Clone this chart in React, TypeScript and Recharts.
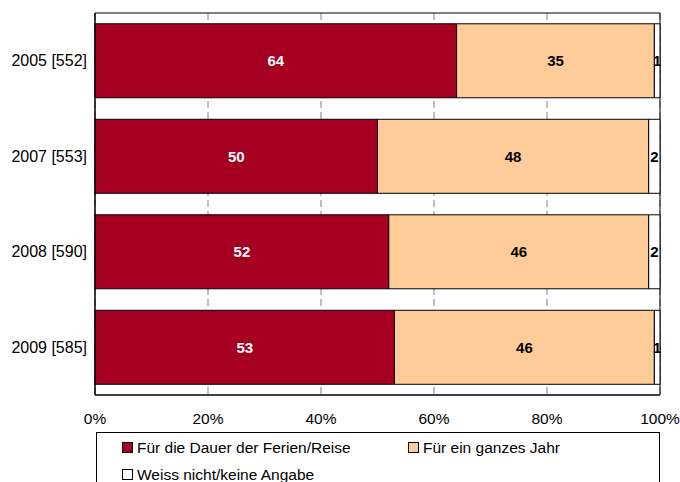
import React from 'react';
import { BarChart, Bar, XAxis, YAxis, CartesianGrid, ReferenceArea, LabelList } from 'recharts';

const categories = ['2005 [552]', '2007 [553]', '2008 [590]', '2009 [585]'];
const dauerValues = [64, 50, 52, 53];
const jahrValues = [35, 48, 46, 46];
const weissValues = [1, 2, 2, 1];
const xTicks = [0, 20, 40, 60, 80, 100];

const seriesNames = ['Für die Dauer der Ferien/Reise', 'Für ein ganzes Jahr', 'Weiss nicht/keine Angabe'];
const seriesColors = ['#A50021', '#FFCC99', '#FFFFFF'];

const data = categories.map((name, i) => ({
  name,
  dauer: dauerValues[i],
  jahr: jahrValues[i],
  weiss: weissValues[i],
}));

const font = '"Liberation Sans", Arial, sans-serif';

const Swatch = ({ color }: { color: string }) => (
  <span style={{
    display: 'inline-block',
    width: 9,
    height: 9,
    background: color,
    border: '1px solid #000',
    marginRight: 4,
    verticalAlign: 'middle',
    position: 'relative',
    top: -1,
  }} />
);

export default function App() {
  const labelStyle = { fontSize: 15, fontWeight: 700, fontFamily: font };
  return (
    <div style={{ position: 'relative', width: 680, height: 482, background: '#fff', fontFamily: font }}>
      <style>{`body{margin:0}`}</style>
      <BarChart
        width={680}
        height={482}
        data={data}
        layout="vertical"
        margin={{ top: 13, right: 20, bottom: 50, left: 0 }}
        barCategoryGap="11.3%"
      >
        <CartesianGrid horizontal={false} stroke="#808080" strokeDasharray="7 4" />
        <XAxis
          type="number"
          domain={[0, 100]}
          ticks={xTicks}
          tickFormatter={(v: number) => `${v}%`}
          tickLine={false}
          axisLine={{ stroke: '#000' }}
          tick={{ fill: '#000', fontSize: 15.5, fontFamily: font }}
          tickMargin={12}
          height={37}
          interval={0}
        />
        <YAxis
          type="category"
          dataKey="name"
          width={95}
          tickLine={false}
          axisLine={{ stroke: '#000' }}
          tick={{ fill: '#000', fontSize: 16, fontFamily: font }}
          tickMargin={2}
        />
        <Bar dataKey="dauer" stackId="a" fill={seriesColors[0]} stroke="#000" strokeWidth={1} isAnimationActive={false}>
          <LabelList dataKey="dauer" position="center" fill="#fff" style={labelStyle} />
        </Bar>
        <Bar dataKey="jahr" stackId="a" fill={seriesColors[1]} stroke="#000" strokeWidth={1} isAnimationActive={false}>
          <LabelList dataKey="jahr" position="center" fill="#000" style={labelStyle} />
        </Bar>
        <Bar dataKey="weiss" stackId="a" fill={seriesColors[2]} stroke="#000" strokeWidth={1} isAnimationActive={false}>
          <LabelList dataKey="weiss" position="center" fill="#000" style={labelStyle} />
        </Bar>
        <ReferenceArea x1={0} x2={100} fill="none" stroke="#000" strokeWidth={1} ifOverflow="visible" />
      </BarChart>
      <div style={{
        position: 'absolute',
        left: 96,
        top: 432,
        width: 564,
        height: 60,
        border: '1px solid #000',
        boxSizing: 'border-box',
        fontSize: 15.5,
        color: '#000',
      }}>
        <div style={{ position: 'absolute', left: 25, top: 6, whiteSpace: 'nowrap' }}>
          <Swatch color={seriesColors[0]} />{seriesNames[0]}
        </div>
        <div style={{ position: 'absolute', left: 311, top: 6, whiteSpace: 'nowrap' }}>
          <Swatch color={seriesColors[1]} />{seriesNames[1]}
        </div>
        <div style={{ position: 'absolute', left: 25, top: 33, whiteSpace: 'nowrap' }}>
          <Swatch color={seriesColors[2]} />{seriesNames[2]}
        </div>
      </div>
    </div>
  );
}
